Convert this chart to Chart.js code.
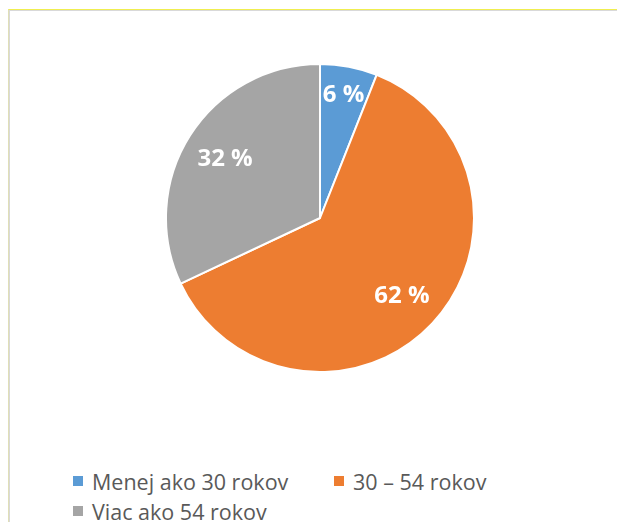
<!DOCTYPE html>
<html>
<head>
<meta charset="utf-8">
<script src="https://cdn.jsdelivr.net/npm/chart.js@4"></script>
<style>
  html, body { margin: 0; padding: 0; background: #fff; }
  body { width: 617px; height: 522px; position: relative; overflow: hidden; font-family: "Open Sans", sans-serif; }
  .ramik { position: absolute; left: 8px; top: 9px; right: -2px; bottom: -2px;
    border-top: 1px solid #f0ee50; border-left: 1px solid #e0dfb8; }
  .ramik2 { position: absolute; left: 0; top: 0; right: 0; bottom: 0;
    border-top: 1px solid #d9d9d9; border-left: 1px solid #d9d9d9; }
  #kolac { position: absolute; left: 165px; top: 63px; width: 310px; height: 310px; }
  #legenda { position: absolute; left: 73px; top: 466px; width: 540px;
    display: flex; flex-wrap: wrap; }
  .polozka { width: 261px; height: 30px; display: flex; align-items: center;
    font-size: 21.5px; color: #595959; white-space: nowrap; }
  .stvorec { width: 10px; height: 10px; margin-right: 9px; flex: none; }
</style>
</head>
<body>
<div class="ramik"><div class="ramik2"></div></div>
<div id="kolac"><canvas id="graf"></canvas></div>
<div id="legenda"></div>

<script>
// údaje grafu
const kategorie = ["Menej ako 30 rokov", "30 – 54 rokov", "Viac ako 54 rokov"];
const hodnoty = [6, 62, 32];
const farby = ["#5b9bd5", "#ed7d31", "#a5a5a5"];

// popisky v percentach priamo na vysekoch
const popiskyPlugin = {
  id: "popisky",
  afterDatasetsDraw(chart) {
    const ctx = chart.ctx;
    const meta = chart.getDatasetMeta(0);
    ctx.save();
    ctx.fillStyle = "#ffffff";
    ctx.font = "bold 24px 'Open Sans', sans-serif";
    ctx.textAlign = "center";
    ctx.textBaseline = "middle";
    meta.data.forEach((arc, i) => {
      const p = arc.getProps(["x", "y", "startAngle", "endAngle", "outerRadius"], true);
      const uhol = (p.startAngle + p.endAngle) / 2;
      const k = hodnoty[i] < 10 ? 0.82 : 0.73;
      const x = p.x + Math.cos(uhol) * p.outerRadius * k;
      const y = p.y + Math.sin(uhol) * p.outerRadius * k;
      ctx.fillText(hodnoty[i] + " %", x, y + 1);
    });
    ctx.restore();
  },
};

new Chart(document.getElementById("graf"), {
  type: "pie",
  data: {
    labels: kategorie,
    datasets: [
      {
        data: hodnoty,
        backgroundColor: farby,
        borderColor: "#ffffff",
        borderWidth: 2,
      },
    ],
  },
  options: {
    responsive: true,
    maintainAspectRatio: false,
    animation: false,
    layout: { padding: 0 },
    plugins: {
      legend: { display: false },
      tooltip: { enabled: false },
    },
  },
  plugins: [popiskyPlugin],
});

// legenda pod grafom
document.getElementById("legenda").innerHTML = kategorie
  .map(
    (k, i) => `
    <div class="polozka"><span class="stvorec" style="background:${farby[i]}"></span>${k}</div>
  `
  )
  .join("");
</script>
</body>
</html>
